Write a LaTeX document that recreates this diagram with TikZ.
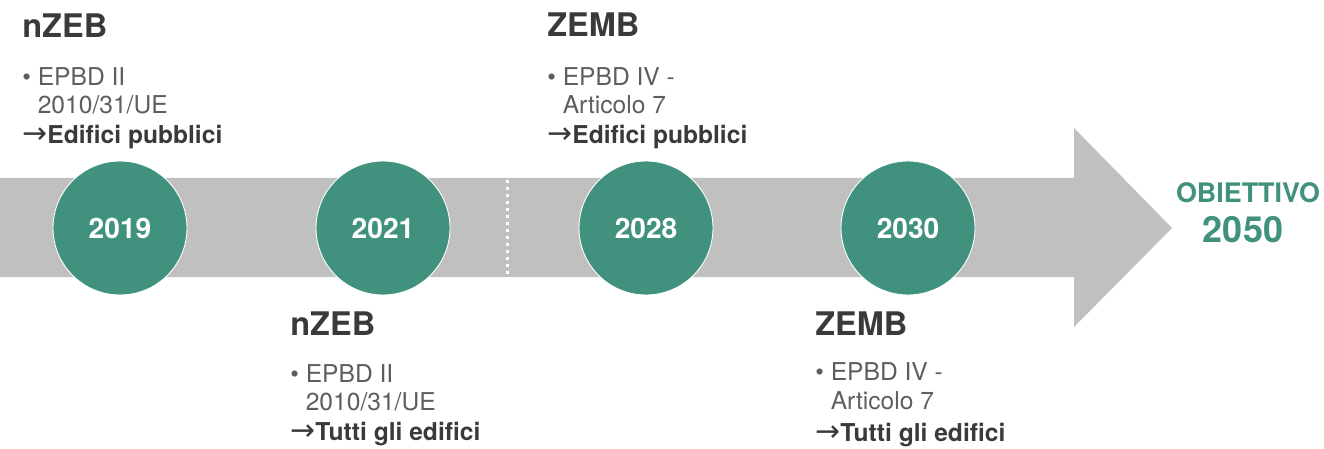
\documentclass[tikz,border=0pt]{standalone}
\usepackage{fontspec}
\setmainfont{TeX Gyre Heros}
\newfontfamily\arrowfont{DejaVu Sans}

\definecolor{zebgreen}{HTML}{41917F}
\definecolor{bandgray}{HTML}{C0C0C0}
\definecolor{darktext}{HTML}{3A3A3A}
\definecolor{softtext}{HTML}{5E5E5E}

\newcommand{\toarrow}{{\arrowfont\mdseries\fontsize{17}{17}\selectfont →}}

\tikzset{
    phase/.style={anchor=base west, inner sep=0pt, text=darktext, font=\fontsize{18.5}{22}\selectfont\bfseries},
    detail/.style={anchor=base west, inner sep=0pt, text=softtext, font=\fontsize{14}{16}\selectfont},
    target/.style={anchor=base west, inner sep=0pt, text=darktext, font=\fontsize{14}{16}\selectfont\bfseries},
    year/.style={circle, fill=zebgreen, draw=white, line width=0.5pt, minimum size=2.68cm, inner sep=0pt, text=white, font=\fontsize{16}{19}\selectfont\bfseries},
    goal/.style={anchor=base, inner sep=0pt, text=zebgreen}
}

\begin{document}
\begin{tikzpicture}[x=0.02cm, y=-0.02cm]
    \useasboundingbox (0,0) rectangle (1324,449);

    % Grey band with the arrow head
    \fill[bandgray] (0,178) -- (1074,178) -- (1074,128) -- (1172,228)
        -- (1074,327) -- (1074,277) -- (0,277) -- cycle;

    % Dotted separator
    \draw[white, line width=1.7pt, dash pattern=on 0.06cm off 0.08cm] (507,180) -- (507,276);

    % Milestones
    \foreach \x/\yr in {120/2019, 383/2021, 646/2028, 908/2030} {
        \node[year] (y\yr) at (\x,228) {\yr};
    }

    % Goal
    \node[goal, font=\fontsize{15.3}{18}\selectfont\bfseries] (obj) at (1248,202) {OBIETTIVO};
    \node[goal, font=\fontsize{20.5}{24}\selectfont\bfseries] (g50) at (1243,242) {2050};

    % 2019 (top)
    \node[phase]  (p19)  at (22,38)  {nZEB};
    \node[detail] (d19a) at (22,86)  {\textbullet\ EPBD II};
    \node[detail] (d19b) at (22,114) {\phantom{\textbullet\ }2010/31/UE};
    \node[target] (t19)  at (22,144) {\toarrow Edifici pubblici};

    % 2021 (bottom)
    \node[phase]  (p21)  at (290,335) {nZEB};
    \node[detail] (d21a) at (290,382) {\textbullet\ EPBD II};
    \node[detail] (d21b) at (290,410) {\phantom{\textbullet\ }2010/31/UE};
    \node[target] (t21)  at (290,440) {\toarrow Tutti gli edifici};

    % 2028 (top)
    \node[phase]  (p28)  at (547,37)  {ZEMB};
    \node[detail] (d28a) at (547,86)  {\textbullet\ EPBD IV -};
    \node[detail] (d28b) at (547,114) {\phantom{\textbullet\ }Articolo 7};
    \node[target] (t28)  at (547,144) {\toarrow Edifici pubblici};

    % 2030 (bottom)
    \node[phase]  (p30)  at (815,335) {ZEMB};
    \node[detail] (d30a) at (815,380) {\textbullet\ EPBD IV -};
    \node[detail] (d30b) at (815,409) {\phantom{\textbullet\ }Articolo 7};
    \node[target] (t30)  at (815,441) {\toarrow Tutti gli edifici};
\end{tikzpicture}
\end{document}
